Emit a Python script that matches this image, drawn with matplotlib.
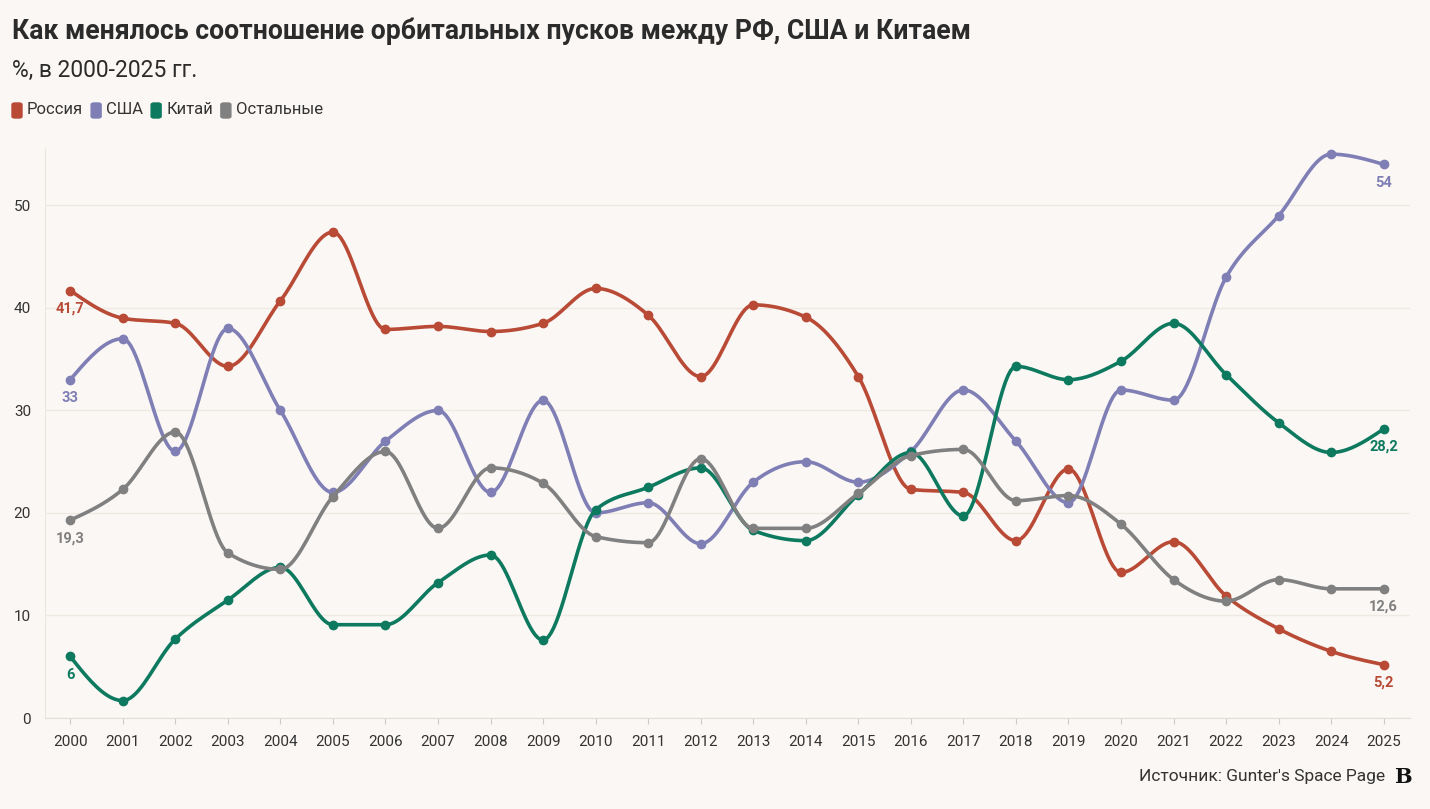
import numpy as np
import matplotlib.pyplot as plt
from matplotlib.patches import FancyBboxPatch

years = list(range(2000, 2026))

russia = [41.7, 39.0, 38.5, 34.3, 40.7, 47.4, 37.9, 38.2, 37.7, 38.5,
          41.9, 39.3, 33.3, 40.3, 39.1, 33.3, 22.3, 22.0, 17.3, 24.3,
          14.2, 17.2, 11.9, 8.7, 6.5, 5.2]
usa = [33, 37, 26, 38, 30, 22, 27, 30, 22, 31,
       20, 21, 17, 23, 25, 23, 26, 32, 27, 21,
       32, 31, 43, 49, 55, 54]
china = [6, 1.7, 7.7, 11.5, 14.7, 9.1, 9.1, 13.2, 15.9, 7.6,
         20.3, 22.5, 24.4, 18.3, 17.3, 21.8, 25.9, 19.7, 34.3, 33.0,
         34.8, 38.5, 33.5, 28.8, 25.9, 28.2]
others = [19.3, 22.3, 27.9, 16.1, 14.5, 21.6, 26.0, 18.5, 24.4, 22.9,
          17.7, 17.1, 25.3, 18.5, 18.5, 21.9, 25.6, 26.2, 21.2, 21.7,
          18.9, 13.5, 11.4, 13.5, 12.6, 12.6]

names = ['Россия', 'США', 'Китай', 'Остальные']
colors = ['#b84a36', '#7f7fb6', '#0d7a5f', '#808080']
first_labels = ['41,7', '33', '6', '19,3']
last_labels = ['5,2', '54', '28,2', '12,6']

bg = '#fbf7f4'


def monotone(x, y, n=20):
    # monotone cubic like d3.curveMonotoneX
    x = np.asarray(x, float)
    y = np.asarray(y, float)
    h = np.diff(x)
    s = np.diff(y) / h
    t = np.zeros(len(x))
    for i in range(1, len(x) - 1):
        p = (s[i - 1] * h[i] + s[i] * h[i - 1]) / (h[i - 1] + h[i])
        t[i] = (np.sign(s[i - 1]) + np.sign(s[i])) * min(abs(s[i - 1]), abs(s[i]), 0.5 * abs(p))
    t[0] = (3 * s[0] - t[1]) / 2
    t[-1] = (3 * s[-1] - t[-2]) / 2
    xs, ys = [], []
    for i in range(len(x) - 1):
        u = np.linspace(0, 1, n, endpoint=False)
        h00 = 2 * u**3 - 3 * u**2 + 1
        h10 = u**3 - 2 * u**2 + u
        h01 = -2 * u**3 + 3 * u**2
        h11 = u**3 - u**2
        xs.append(x[i] + u * h[i])
        ys.append(h00 * y[i] + h10 * h[i] * t[i] + h01 * y[i + 1] + h11 * h[i] * t[i + 1])
    xs.append([x[-1]])
    ys.append([y[-1]])
    return np.concatenate(xs), np.concatenate(ys)


plt.rcParams['font.family'] = ['Roboto', 'DejaVu Sans']

fig = plt.figure(figsize=(14.3, 8.09), dpi=100, facecolor=bg)
ax = fig.add_axes([45 / 1430, 1 - 718 / 809, 1365 / 1430, 570 / 809])
ax.set_facecolor(bg)

series = [russia, usa, china, others]
order = [3, 2, 1, 0]
for i in order:
    xs, ys = monotone(years, series[i])
    ax.plot(xs, ys, color=colors[i], lw=2.6, zorder=3 + i, solid_capstyle='round')
    ax.plot(years, series[i], 'o', color=colors[i], ms=6, zorder=3 + i)

for i in range(4):
    ax.annotate(first_labels[i], (years[0], series[i][0]), xytext=(0, -8),
                textcoords='offset points', ha='center', va='top',
                color=colors[i], fontsize=10.5, fontweight='bold', zorder=10)
    ax.annotate(last_labels[i], (years[-1], series[i][-1]), xytext=(0, -8),
                textcoords='offset points', ha='center', va='top',
                color=colors[i], fontsize=10.5, fontweight='bold', zorder=10)

ax.set_xlim(1999.52, 2025.5)
ax.set_ylim(0, 55.6)
ax.set_xticks(years)
ax.set_xticklabels([str(y) for y in years], fontsize=11, color='#333333')
ax.set_yticks([0, 10, 20, 30, 40, 50])
ax.set_yticklabels(['0', '10', '20', '30', '40', '50'], fontsize=11, color='#333333')
ax.grid(axis='y', color='#efe9e4', lw=1)
ax.set_axisbelow(True)
for side in ['top', 'right']:
    ax.spines[side].set_visible(False)
ax.spines['left'].set_color('#ece6e1')
ax.spines['bottom'].set_color('#e3ddd8')
ax.tick_params(axis='y', length=0, pad=10)
ax.tick_params(axis='x', length=4, color='#d0cac5', pad=8)

fig.text(12 / 1430, 1 - 31 / 809, 'Как менялось соотношение орбитальных пусков между РФ, США и Китаем',
         fontsize=19.2, fontweight='bold', color='#2b2b2b', va='center', ha='left')
fig.text(12 / 1430, 1 - 70 / 809, '%, в 2000-2025 гг.', fontsize=16.5, color='#2b2b2b',
         va='center', ha='left')

lx = 12
for i in range(4):
    fig.patches.append(FancyBboxPatch((lx / 1430, 1 - 118 / 809), 10 / 1430, 15 / 809,
                                      boxstyle='round,pad=0,rounding_size=0.002',
                                      transform=fig.transFigure, color=colors[i]))
    t = fig.text((lx + 15) / 1430, 1 - 110 / 809, names[i], fontsize=12, color='#333333',
                 va='center', ha='left')
    fig.canvas.draw()
    bb = t.get_window_extent()
    lx = bb.x1 + 8

fig.text(1385 / 1430, 1 - 777 / 809, "Источник: Gunter's Space Page", fontsize=12.5,
         color='#333333', va='center', ha='right')
fig.text(1403 / 1430, 1 - 777 / 809, 'B', fontsize=15, fontweight='bold', family='DejaVu Serif',
         color='#111111', va='center', ha='center')

fig.savefig('out.png', dpi=100, facecolor=bg)
